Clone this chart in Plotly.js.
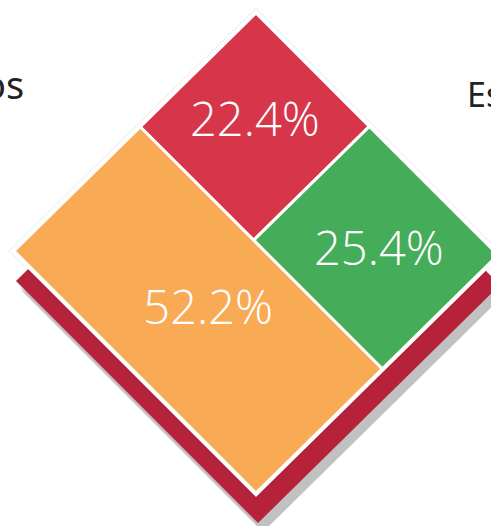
<!DOCTYPE html>
<html>
<head>
<meta charset="utf-8">
<script src="https://cdn.plot.ly/plotly-3.0.1.min.js"></script>
<style>html,body{margin:0;padding:0;background:#fff;}#chart{width:491px;height:526px;}</style>
</head>
<body>
<div id="chart"></div>
<script>
// ---- data ----
const categories = ["A", "B", "C"];
const values = [52.2, 22.4, 25.4];
const valueLabels = ["52.2%", "22.4%", "25.4%"];
const colors = ["#f9aa55", "#d7364a", "#45ad5a"];
const sideLabels = ["os", "Es"];

// ---- geometry (diamond = rotated unit square) ----
const L = [14, 251], T = [256, 13], B = [256, 493];
const labelNudge = [[10, 2], [0, -2], [3, 6]];
function P(a, b) {
  return [L[0] + a * (T[0] - L[0]) + b * (B[0] - L[0]),
          L[1] + a * (T[1] - L[1]) + b * (B[1] - L[1])];
}
function rectPoly(a0, a1, b0, b1) {
  const pts = [P(a0, b0), P(a1, b0), P(a1, b1), P(a0, b1), P(a0, b0)];
  return {x: pts.map(p => p[0]), y: pts.map(p => p[1])};
}
function expandPoly(e, dx, dy) {
  const c = P(0.5, 0.5);
  const pts = [P(0,0), P(1,0), P(1,1), P(0,1), P(0,0)];
  const sc = p => 1 + e / Math.max(1, Math.hypot(p[0]-c[0], p[1]-c[1]));
  return {x: pts.map(p => c[0] + (p[0]-c[0]) * sc(p) + dx),
          y: pts.map(p => c[1] + (p[1]-c[1]) * sc(p) + dy)};
}

const total = values.reduce((s, v) => s + v, 0);
const f0 = values[0] / total;
const f1 = values[1] / (values[1] + values[2]);
const rects = [
  [0, f0, 0, 1],
  [f0, 1, 0, f1],
  [f0, 1, f1, 1]
];

const traces = [];
function poly(p, fill, lineColor, lineWidth) {
  traces.push({type: "scatter", mode: "lines", x: p.x, y: p.y, fill: "toself",
    fillcolor: fill, line: {color: lineColor || fill, width: lineWidth || 0},
    hoverinfo: "skip", showlegend: false});
}
// soft grey shadow under the dark red backing
for (let i = 0; i < 6; i++) {
  poly(expandPoly(2 - i, 7, 37 + i), "rgba(0,0,0,0.045)");
}
// dark red backing
poly(expandPoly(0, 2, 30), "#b5223a");
// faint shadow around the main diamond
poly(expandPoly(6, 0, 0), "rgba(0,0,0,0.05)");
// white outer frame
poly(expandPoly(4, 0, 0), "#ffffff");
// treemap tiles
rects.forEach((r, i) => {
  poly(rectPoly(r[0], r[1], r[2], r[3]), colors[i], "#ffffff", 3);
});
// labels
const centers = rects.map(r => P((r[0] + r[1]) / 2, (r[2] + r[3]) / 2));
traces.push({type: "scatter", mode: "text",
  x: centers.map((c, i) => c[0] + labelNudge[i][0]),
  y: centers.map((c, i) => c[1] + labelNudge[i][1]),
  text: valueLabels, textposition: "middle center",
  textfont: {color: "#ffffff", size: 47, family: "Open Sans", weight: 300},
  hoverinfo: "skip", showlegend: false});

const layout = {
  width: 491, height: 526,
  margin: {l: 0, r: 0, t: 0, b: 0},
  paper_bgcolor: "#ffffff", plot_bgcolor: "#ffffff",
  xaxis: {range: [0, 491], visible: false, fixedrange: true},
  yaxis: {range: [526, 0], visible: false, fixedrange: true},
  showlegend: false,
  annotations: [
    {x: 26, y: 84, xref: "x", yref: "y", text: sideLabels[0], showarrow: false,
     xanchor: "right", yanchor: "middle", font: {size: 38, color: "#222222", family: "Noto Sans"}},
    {x: 465, y: 94, xref: "x", yref: "y", text: sideLabels[1], showarrow: false,
     xanchor: "left", yanchor: "middle", font: {size: 34, color: "#222222", family: "Noto Sans"}}
  ]
};
Plotly.newPlot("chart", traces, layout, {staticPlot: true, displayModeBar: false});
</script>
</body>
</html>
